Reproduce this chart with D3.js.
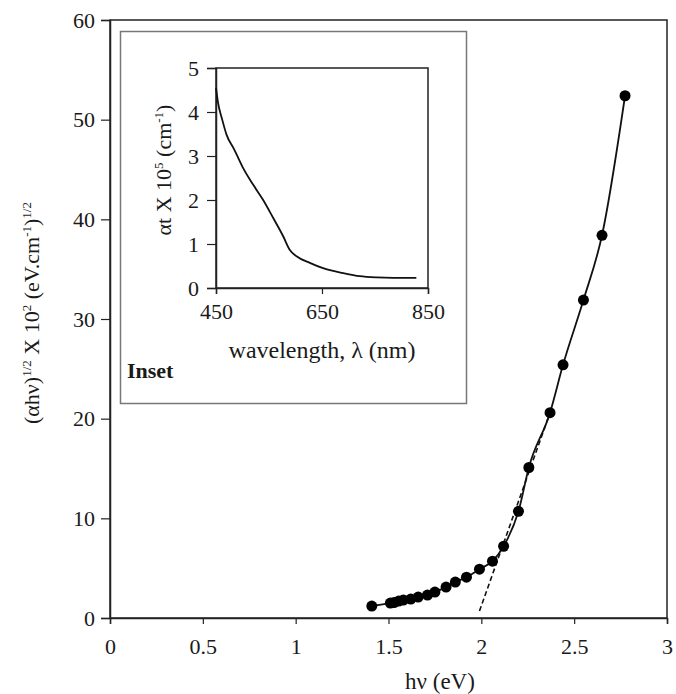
<!DOCTYPE html>
<html>
<head>
<meta charset="utf-8">
<script src="https://cdn.jsdelivr.net/npm/d3@7"></script>
<style>
  body { margin: 0; background: #fff; }
  svg text { font-family: "Liberation Serif", "Times New Roman", serif; fill: #1a1a1a; }
</style>
</head>
<body>
<div id="chart"></div>
<script>
// main plot: (alpha h nu)^1/2 vs photon energy
const energy = [1.41, 1.51, 1.53, 1.555, 1.58, 1.62, 1.66, 1.71, 1.75, 1.81, 1.86, 1.92, 1.99, 2.06, 2.12, 2.20, 2.256, 2.37, 2.44, 2.55, 2.65, 2.774];
const tauc = [1.2, 1.5, 1.55, 1.7, 1.8, 1.9, 2.1, 2.3, 2.6, 3.1, 3.6, 4.1, 4.9, 5.7, 7.2, 10.7, 15.1, 20.6, 25.4, 31.9, 38.4, 52.4];
const fitX = [1.99, 2.37];
const fitY = [0.7, 20.6];
const xTicks = [0, 0.5, 1, 1.5, 2, 2.5, 3];
const yTicks = [0, 10, 20, 30, 40, 50, 60];

// inset: absorption vs wavelength
const wavelength = [450, 454, 461, 470, 483, 489, 501, 520, 539, 558, 577, 589, 602, 627, 652, 690, 721, 753, 784, 828];
const absorb = [4.55, 4.2, 3.86, 3.48, 3.18, 3.03, 2.73, 2.35, 2.0, 1.59, 1.17, 0.87, 0.72, 0.57, 0.45, 0.34, 0.27, 0.24, 0.23, 0.23];
const insetXTicks = [450, 650, 850];
const insetYTicks = [0, 1, 2, 3, 4, 5];

const width = 676, height = 694;
const margin = {top: 20, right: 9, bottom: 76, left: 110};
const w = width - margin.left - margin.right;
const h = height - margin.top - margin.bottom;

let svg = d3.select("#chart").append("svg")
    .attr("width", width)
    .attr("height", height);

let g = svg.append("g")
    .attr("transform", `translate(${margin.left}, ${margin.top})`);

let x = d3.scaleLinear().domain([0, 3]).range([0, w]);
let y = d3.scaleLinear().domain([0, 60]).range([h, 0]);

g.append("rect")
    .attr("width", w).attr("height", h)
    .attr("fill", "none").attr("stroke", "#222").attr("stroke-width", 1.5);

let xAxis = g.append("g")
    .attr("transform", `translate(0, ${h})`)
    .call(d3.axisBottom(x).tickValues(xTicks).tickFormat(d3.format("")).tickSize(6).tickPadding(14));
let yAxis = g.append("g")
    .call(d3.axisLeft(y).tickValues(yTicks).tickSize(9).tickPadding(6));

[xAxis, yAxis].forEach(function(a) {
    a.select(".domain").attr("stroke", "#222").attr("stroke-width", 1.5);
    a.selectAll(".tick line").attr("stroke", "#222").attr("stroke-width", 1.2);
    a.selectAll(".tick text").style("font-size", "22px").attr("fill", "#222");
});

// dashed extrapolation
g.append("line")
    .attr("x1", x(fitX[0])).attr("y1", y(fitY[0]))
    .attr("x2", x(fitX[1])).attr("y2", y(fitY[1]))
    .attr("stroke", "#111").attr("stroke-width", 1.6)
    .attr("stroke-dasharray", "5,3");

let pts = energy.map(function(e, i) { return [e, tauc[i]]; });

g.append("path")
    .datum(pts)
    .attr("fill", "none")
    .attr("stroke", "#111")
    .attr("stroke-width", 1.8)
    .attr("d", d3.line().x(d => x(d[0])).y(d => y(d[1])).curve(d3.curveMonotoneX));

g.selectAll("circle.pt").data(pts).enter()
    .append("circle")
    .attr("class", "pt")
    .attr("cx", d => x(d[0]))
    .attr("cy", d => y(d[1]))
    .attr("r", 5.5)
    .attr("fill", "#000");

svg.append("text")
    .attr("x", 440).attr("y", 689)
    .style("text-anchor", "middle")
    .style("font-size", "23px")
    .text("hν (eV)");

let yLabel = svg.append("text")
    .attr("transform", `translate(39, 313) rotate(-90)`)
    .style("text-anchor", "middle")
    .style("font-size", "22px");
yLabel.append("tspan").text("(αhν)");
yLabel.append("tspan").attr("dy", -8).style("font-size", "13px").text("1/2");
yLabel.append("tspan").attr("dy", 8).text(" X 10");
yLabel.append("tspan").attr("dy", -8).style("font-size", "13px").text("2");
yLabel.append("tspan").attr("dy", 8).text(" (eV.cm");
yLabel.append("tspan").attr("dy", -8).style("font-size", "13px").text("-1");
yLabel.append("tspan").attr("dy", 8).text(")");
yLabel.append("tspan").attr("dy", -8).style("font-size", "13px").text("1/2");

// inset box
svg.append("rect")
    .attr("x", 120.5).attr("y", 31.5)
    .attr("width", 346).attr("height", 372)
    .attr("fill", "#fff").attr("stroke", "#777").attr("stroke-width", 1.5);

const im = {left: 216, top: 68, w: 212, h: 220};
let ig = svg.append("g").attr("transform", `translate(${im.left}, ${im.top})`);

let ix = d3.scaleLinear().domain([450, 850]).range([0, im.w]);
let iy = d3.scaleLinear().domain([0, 5]).range([im.h, 0]);

ig.append("rect")
    .attr("width", im.w).attr("height", im.h)
    .attr("fill", "none").attr("stroke", "#222").attr("stroke-width", 1.5);

let ixAxis = ig.append("g")
    .attr("transform", `translate(0, ${im.h})`)
    .call(d3.axisBottom(ix).tickValues(insetXTicks).tickFormat(d3.format("d")).tickSize(6).tickPadding(9));
let iyAxis = ig.append("g")
    .call(d3.axisLeft(iy).tickValues(insetYTicks).tickFormat(d3.format("d")).tickSize(9).tickPadding(8));

[ixAxis, iyAxis].forEach(function(a) {
    a.select(".domain").attr("stroke", "#222").attr("stroke-width", 1.5);
    a.selectAll(".tick line").attr("stroke", "#222").attr("stroke-width", 1.2);
    a.selectAll(".tick text").style("font-size", "22px").attr("fill", "#222");
});

ig.append("path")
    .datum(wavelength.map(function(l, i) { return [l, absorb[i]]; }))
    .attr("fill", "none")
    .attr("stroke", "#111")
    .attr("stroke-width", 1.8)
    .attr("d", d3.line().x(d => ix(d[0])).y(d => iy(d[1])).curve(d3.curveMonotoneX));

ig.append("text")
    .attr("transform", `translate(${im.w / 2}, 290)`)
    .style("text-anchor", "middle")
    .style("font-size", "24px")
    .text("wavelength, λ (nm)");

let iyLabel = svg.append("text")
    .attr("transform", `translate(171, 170) rotate(-90)`)
    .style("text-anchor", "middle")
    .style("font-size", "22px");
iyLabel.append("tspan").text("αt X 10");
iyLabel.append("tspan").attr("dy", -8).style("font-size", "13px").text("5");
iyLabel.append("tspan").attr("dy", 8).text(" (cm");
iyLabel.append("tspan").attr("dy", -8).style("font-size", "13px").text("-1");
iyLabel.append("tspan").attr("dy", 8).text(")");

svg.append("text")
    .attr("x", 127).attr("y", 378)
    .style("font-size", "22px")
    .style("font-weight", "bold")
    .text("Inset");
</script>
</body>
</html>
